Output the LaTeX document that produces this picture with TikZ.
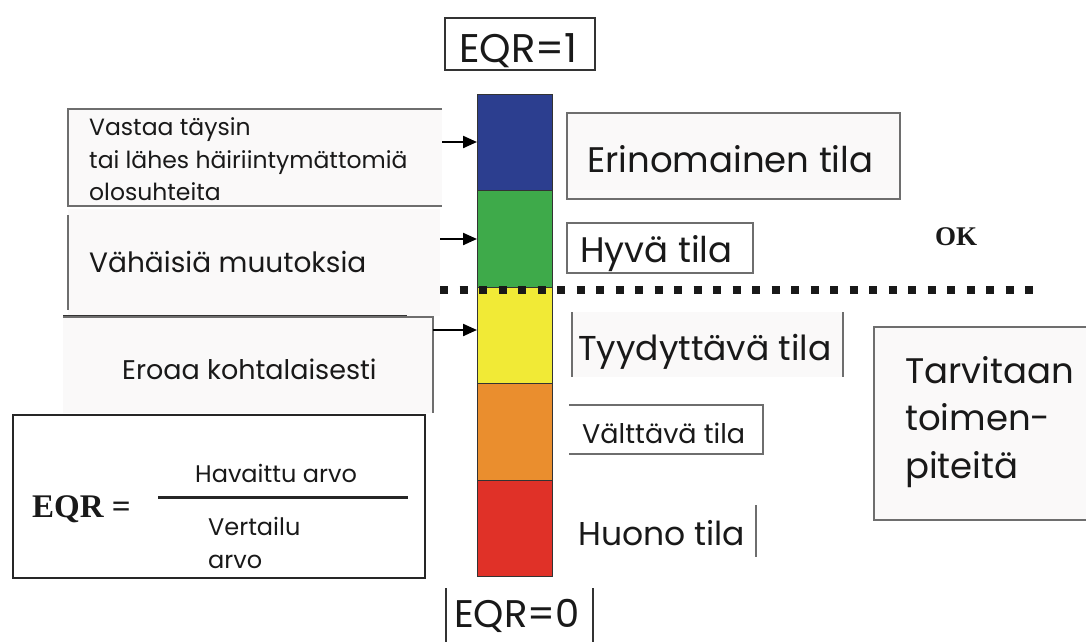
\documentclass[tikz,border=0pt]{standalone}
\usepackage{fontspec}
\setmainfont{Poppins}
\newfontfamily\serifbold{Liberation Serif}[BoldFont={Liberation Serif Bold}]
\usetikzlibrary{arrows.meta}
\definecolor{qblue}{RGB}{44,62,143}
\definecolor{qgreen}{RGB}{62,170,74}
\definecolor{qyellow}{RGB}{241,234,54}
\definecolor{qorange}{RGB}{234,142,46}
\definecolor{qred}{RGB}{224,49,40}
\definecolor{boxline}{RGB}{110,110,110}
\definecolor{boxfill}{RGB}{250,249,249}
\tikzset{
  txt/.style={anchor=base west, inner sep=0pt, text=black!90},
  band/.style={draw=black!80, line width=0.8pt, minimum width=75pt, minimum height=96.4pt, inner sep=0pt, anchor=north west},
  thin/.style={draw=boxline, line width=1.1pt},
  arr/.style={line width=2.2pt, -{Triangle[length=14pt,width=12pt]}},
}
\begin{document}
\begin{tikzpicture}[x=1pt,y=-1pt]
\useasboundingbox (0,0) rectangle (1086,642);
% faint fills
\fill[boxfill] (68,109) rectangle (442,206);
\fill[boxfill] (68,209) rectangle (440,316);
\fill[boxfill] (63,317) rectangle (433,413);
\fill[boxfill] (567,113) rectangle (900,199);
\fill[boxfill] (572,312) rectangle (843,377);
\fill[boxfill] (874,327) rectangle (1086,520);
% colour bar
\node[band, fill=qblue]   (blue)   at (477,94)    {};
\node[band, fill=qgreen]  (green)  at (477,190.4) {};
\node[band, fill=qyellow] (yellow) at (477,286.8) {};
\node[band, fill=qorange] (orange) at (477,383.2) {};
\node[band, fill=qred]    (red)    at (477,479.6) {};
% EQR=1 / EQR=0
\draw[draw=black!80, line width=1.3pt] (445,18) rectangle (595,70);
\node[txt, font=\fontsize{40}{40}\selectfont] (eqr1) at (459,63) {EQR=1};
\draw[draw=black!80, line width=1.3pt] (446,588) -- (446,642) (593,588) -- (593,642);
\node[txt, font=\fontsize{38.5}{40}\selectfont] (eqr0) at (454,627) {EQR=0};
% left box 1
\draw[thin] (442,109) -- (68,109) -- (68,206) -- (442,206);
\node[txt, font=\fontsize{23.5}{33}\selectfont] (l1a) at (89,135) {Vastaa täysin};
\node[txt, font=\fontsize{23.5}{33}\selectfont] (l1b) at (89,168) {tai lähes häiriintymättomiä};
\node[txt, font=\fontsize{23.5}{33}\selectfont] (l1c) at (89,200) {olosuhteita};
% left box 2
\draw[thin] (68,215) -- (68,310);
\draw[draw=black!80, line width=2pt] (63,316) -- (407,316);
\node[txt, font=\fontsize{28}{33}\selectfont] (l2) at (89,272) {Vähäisiä muutoksia};
% left box 3
\draw[thin] (63,317) -- (433,317) -- (433,413);
\node[txt, font=\fontsize{27}{33}\selectfont] (l3) at (122,379) {Eroaa kohtalaisesti};
% EQR formula box
\draw[draw=black!85, line width=2pt] (13,415) rectangle (425,578);
\node[txt, font=\serifbold\bfseries\fontsize{33}{33}\selectfont] (eqrf) at (32,517) {EQR =};
\draw[draw=black!85, line width=3pt] (158,497) -- (408,497);
\node[txt, font=\fontsize{24}{30}\selectfont] (hav) at (195,482) {Havaittu arvo};
\node[txt, font=\fontsize{24}{30}\selectfont] (ver) at (208,535) {Vertailu};
\node[txt, font=\fontsize{24}{30}\selectfont] (arv) at (208,568) {arvo};
% arrows
\coordinate (a1) at (442,142);
\coordinate (a2) at (440,239);
\coordinate (a3) at (433,330);
\draw[arr] (a1) -- (a1 -| blue.west);
\draw[arr] (a2) -- (a2 -| green.west);
\draw[arr] (a3) -- (a3 -| yellow.west);
% dotted separator
\draw[line width=8pt, dash pattern=on 8pt off 11.5pt, black!90] (440,290) -- (1040,290);
% right labels
\draw[thin] (567,113) rectangle (900,199);
\node[txt, font=\fontsize{35.5}{40}\selectfont] (r1) at (587,172) {Erinomainen tila};
\draw[thin] (567,223) rectangle (753,273);
\node[txt, font=\fontsize{35.5}{40}\selectfont] (r2) at (580,262) {Hyvä tila};
\draw[thin] (572,312) -- (572,377) (843,312) -- (843,377);
\node[txt, font=\fontsize{34.5}{40}\selectfont] (r3) at (578,360) {Tyydyttävä tila};
\draw[thin] (569,405) -- (763,405) -- (763,454) -- (569,454);
\node[txt, font=\fontsize{27}{30}\selectfont] (r4) at (582,443) {Välttävä tila};
\draw[thin] (756,505) -- (756,557);
\node[txt, font=\fontsize{33}{40}\selectfont] (r5) at (578,545) {Huono tila};
\node[txt, font=\serifbold\bfseries\fontsize{27}{30}\selectfont] (ok) at (935,245) {OK};
\draw[thin] (1086,327) -- (874,327) -- (874,520) -- (1086,520);
\node[txt, font=\fontsize{35.5}{45}\selectfont] (t1) at (905,383) {Tarvitaan};
\node[txt, font=\fontsize{35.5}{45}\selectfont] (t2) at (905,430) {toimen-};
\node[txt, font=\fontsize{35.5}{45}\selectfont] (t3) at (905,478) {piteitä};
\end{tikzpicture}
\end{document}
